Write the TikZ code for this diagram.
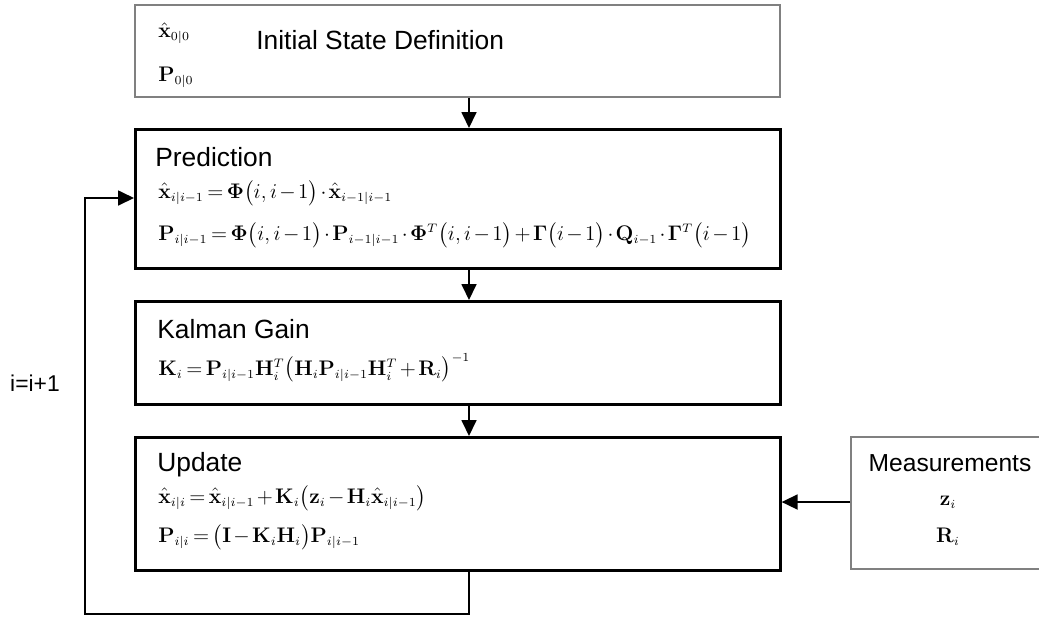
\documentclass[tikz,border=0pt]{standalone}
\usepackage{amsmath}
\usepackage[no-math]{fontspec}
\setmainfont{Liberation Sans}
\usetikzlibrary{arrows.meta}
\DeclareMathSizes{13}{13}{7.5}{6}
\medmuskip=2mu\relax
\thickmuskip=3mu\relax
\tikzset{
  stepbox/.style={draw,line width=1.5pt,minimum width=12.9cm,anchor=north west,inner sep=0pt},
  greybox/.style={draw=gray,line width=1.1pt,anchor=north west,inner sep=0pt},
  title/.style={anchor=west,inner sep=0pt,font=\fontsize{15}{17}\selectfont},
  eqn/.style={anchor=west,inner sep=0pt,font=\fontsize{13}{15}\selectfont},
  flow/.style={line width=1pt,-{Triangle[length=3.2mm,width=3mm]}}
}
\begin{document}
\begin{tikzpicture}
    \useasboundingbox (0,0) rectangle (20.78,-12.34);
    %% Blocks
    \node[greybox,minimum width=12.9cm,minimum height=1.84cm] (init) at (2.68,-0.08) {};
    \node[stepbox,minimum height=2.78cm] (pred) at (2.68,-2.56) {};
    \node[stepbox,minimum height=2.06cm] (gain) at (2.68,-6.0) {};
    \node[stepbox,minimum height=2.66cm] (upd) at (2.68,-8.72) {};
    \node[greybox,minimum width=4cm,minimum height=2.64cm] (meas) at (17.0,-8.72) {};
    %% labels
    \node[eqn] (x0) at (3.16,-0.66) {$\hat{\mathbf{x}}_{0|0}$};
    \node[eqn] (p0) at (3.16,-1.54) {$\mathbf{P}_{0|0}$};
    \node[title] (initlbl) at (5.12,-0.80) {Initial State Definition};
    \node[title] (predlbl) at (3.10,-3.14) {Prediction};
    \node[eqn] (prede1) at (3.16,-3.86) {$\hat{\mathbf{x}}_{i|i-1}=\mathbf{\Phi}\bigl(i,i-1\bigr)\cdot\hat{\mathbf{x}}_{i-1|i-1}$};
    \node[eqn] (prede2) at (3.16,-4.70) {$\mathbf{P}_{i|i-1}=\mathbf{\Phi}\bigl(i,i-1\bigr)\cdot\mathbf{P}_{i-1|i-1}\cdot\mathbf{\Phi}^{T}\bigl(i,i-1\bigr)+\mathbf{\Gamma}\bigl(i-1\bigr)\cdot\mathbf{Q}_{i-1}\cdot\mathbf{\Gamma}^{T}\bigl(i-1\bigr)$};
    \node[title] (gainlbl) at (3.14,-6.58) {Kalman Gain};
    \node[eqn] (gaine) at (3.16,-7.36) {$\mathbf{K}_i=\mathbf{P}_{i|i-1}\mathbf{H}_i^{T}\bigl(\mathbf{H}_i\mathbf{P}_{i|i-1}\mathbf{H}_i^{T}+\mathbf{R}_i\bigr)^{-1}$};
    \node[title] (updlbl) at (3.14,-9.30) {Update};
    \node[eqn] (upde1) at (3.16,-9.96) {$\hat{\mathbf{x}}_{i|i}=\hat{\mathbf{x}}_{i|i-1}+\mathbf{K}_i\bigl(\mathbf{z}_i-\mathbf{H}_i\hat{\mathbf{x}}_{i|i-1}\bigr)$};
    \node[eqn] (upde2) at (3.16,-10.74) {$\mathbf{P}_{i|i}=\bigl(\mathbf{I}-\mathbf{K}_i\mathbf{H}_i\bigr)\mathbf{P}_{i|i-1}$};
    \node[title,anchor=center,font=\fontsize{14}{16}\selectfont] (measlbl) at (19.0,-9.26) {Measurements};
    \node[eqn,anchor=center] (zi) at (18.96,-10.04) {$\mathbf{z}_i$};
    \node[eqn,anchor=center] (ri) at (18.96,-10.74) {$\mathbf{R}_i$};
    \node[title,anchor=center,font=\fontsize{13}{15}\selectfont] (incr) at (0.70,-7.66) {i=i+1};
    %% connectors
    \coordinate (ax) at (9.38,0);
    \draw[flow] (init.south -| ax) -- (pred.north -| ax);
    \draw[flow] (pred.south -| ax) -- (gain.north -| ax);
    \draw[flow] (gain.south -| ax) -- (upd.north -| ax);
    \draw[flow] (meas.west |- zi) -- (upd.east |- zi);
    \coordinate (loop) at (1.70,-12.28);
    \coordinate (back) at (1.70,-3.96);
    \draw[flow] (upd.south -| ax) -- (ax |- loop) -- (loop) -- (back) -- (pred.west |- back);
\end{tikzpicture}
\end{document}
